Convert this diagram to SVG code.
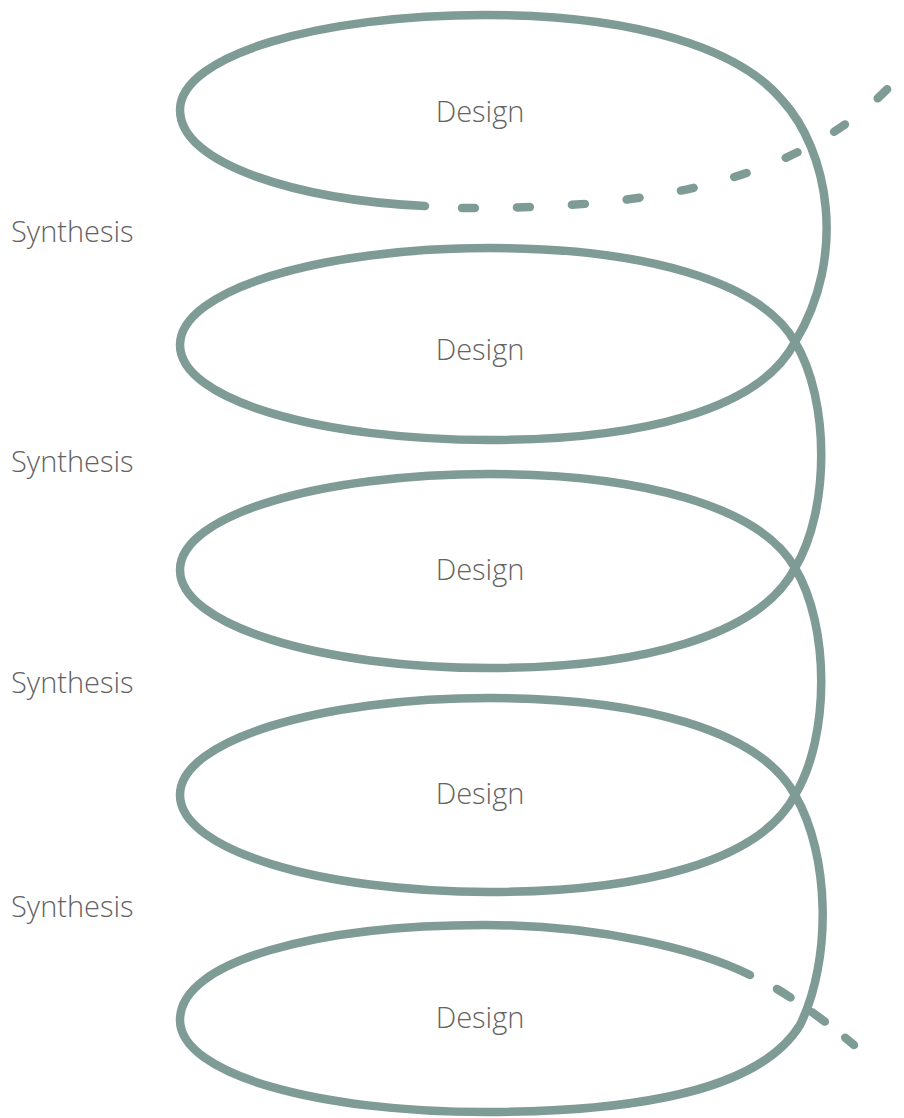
<svg xmlns="http://www.w3.org/2000/svg" width="904" height="1118" viewBox="0 0 904 1118">
<style>
.s{fill:none;stroke:#7f9b96;stroke-width:8.5;stroke-linecap:round;stroke-linejoin:round}
.d1{stroke-dasharray:13 42}
.d2{stroke-dasharray:16 26}
.t{font-family:"Open Sans","Noto Sans",sans-serif;font-weight:300;font-size:29px;fill:#636363}
.c{text-anchor:middle}
</style>
<rect width="904" height="1118" fill="#fff"/>
<g id="connectors">
<path class="s" d="M425,206 C300,200 180,165 180,110 C180,55 320,15 485,15 C640,15 740,50 782,100 C828,150 848,255 795,342 C760,410 640,440 490,440 C320,440 180,400 180,345 C180,290 320,248 490,248 C640,248 760,280 795,342 C830,400 830,510 795,568 C760,636 640,668 490,668 C320,668 180,625 180,570 C180,515 320,474 490,474 C640,474 760,506 795,568 C830,626 830,737 795,795 C760,862 640,892 490,892 C320,892 180,850 180,795 C180,740 320,698 490,698 C640,698 760,730 795,795 C830,855 832,960 800,1025 C760,1090 640,1112 485,1112 C320,1112 180,1075 180,1020 C180,960 320,925 485,925 C600,925 700,950 750,975"/>
<path class="s d1" d="M462,208 C600,208 800,200 908,66"/>
<path class="s d2" d="M777,989 Q815,1012 854,1045"/>
</g>
<g id="design1"><text class="t c" x="480" y="122">Design</text></g>
<g id="design2"><text class="t c" x="480" y="360">Design</text></g>
<g id="design3"><text class="t c" x="480" y="580">Design</text></g>
<g id="design4"><text class="t c" x="480" y="804">Design</text></g>
<g id="design5"><text class="t c" x="480" y="1028">Design</text></g>
<g id="synthesis1"><text class="t" x="11" y="242">Synthesis</text></g>
<g id="synthesis2"><text class="t" x="11" y="472">Synthesis</text></g>
<g id="synthesis3"><text class="t" x="11" y="693">Synthesis</text></g>
<g id="synthesis4"><text class="t" x="11" y="917">Synthesis</text></g>
</svg>
